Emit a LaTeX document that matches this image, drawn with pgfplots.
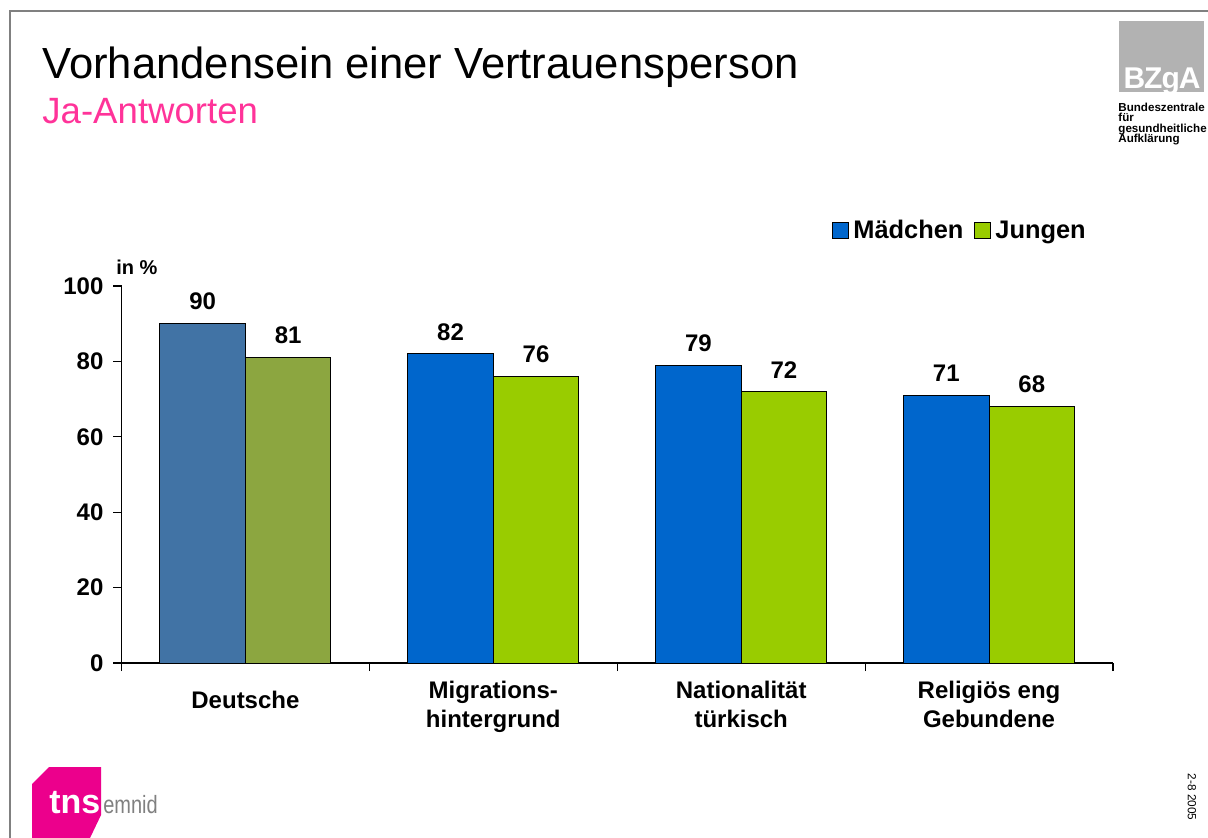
\documentclass[border=0pt]{standalone}
\usepackage{fontspec}
\setmainfont{Liberation Sans}
\usepackage{pgfplots}
\pgfplotsset{compat=1.18}
\definecolor{dblue}{RGB}{65,115,165}
\definecolor{dgreen}{RGB}{140,166,64}
\definecolor{mblue}{RGB}{0,102,204}
\definecolor{jgreen}{RGB}{153,204,0}
\definecolor{subpink}{RGB}{255,51,153}
\definecolor{tnspink}{RGB}{236,0,140}
\definecolor{framegray}{RGB}{128,128,128}
\definecolor{bzgray}{RGB}{178,178,178}
\begin{document}
\begin{tikzpicture}
\path[use as bounding box] (0,0) rectangle (604pt,-418.5pt);
\fill[white] (0,0) rectangle (604pt,-418.5pt);
\begin{scope}[x=0.5pt,y=-0.5pt]
\draw[framegray, line width=1.1pt] (10,838) -- (10,11) -- (1209,11);
\node[anchor=base west, inner sep=0] at (42,78) {\fontsize{21.8}{25}\selectfont Vorhandensein einer Vertrauensperson};
\node[anchor=base west, inner sep=0, text=subpink] at (42,123) {\fontsize{18.3}{22}\selectfont Ja-Antworten};
% BZgA logo
\fill[bzgray] (1119,21) rectangle (1204,92);
\node[anchor=base, white, inner sep=0] at (1162,88) {\fontsize{15}{15}\selectfont\bfseries B\kern-0.5pt Z\kern-0.5pt g\kern-0.5pt A};
\node[anchor=base west, inner sep=0] at (1118,111) {\fontsize{5.8}{6}\selectfont\bfseries Bundeszentrale};
\node[anchor=base west, inner sep=0] at (1118,121.5) {\fontsize{5.8}{6}\selectfont\bfseries für};
\node[anchor=base west, inner sep=0] at (1118,132) {\fontsize{5.8}{6}\selectfont\bfseries gesundheitliche};
\node[anchor=base west, inner sep=0] at (1118,142.5) {\fontsize{5.8}{6}\selectfont\bfseries Aufklärung};
% tns emnid logo
\fill[tnspink] (32,784) -- (49,767) -- (101,767) -- (101,815) -- (90,838) -- (32,838) -- cycle;
\node[anchor=base west, inner sep=0, white] at (49,813) {\fontsize{17}{17}\selectfont\bfseries tns};
\node[anchor=base west, inner sep=0, text=framegray, xscale=0.8] at (103,813) {\fontsize{12.5}{13}\selectfont emnid};
% date
\node[rotate=-90, inner sep=0] at (1192,797) {\fontsize{5.9}{6}\selectfont 2-8 2005};
% unit
\node[anchor=west, inner sep=0] at (116,267) {\fontsize{10}{12}\selectfont\bfseries in \%};
\end{scope}
\begin{axis}[
  at={(60.75pt,-331.5pt)}, anchor=south west,
  scale only axis, width=495.75pt, height=188.5pt,
  xmin=-0.5, xmax=3.5, ymin=0, ymax=100,
  ybar=0pt, bar width=42.75pt,
  axis x line*=bottom, axis y line*=left,
  axis line style={line width=0.6pt, -},
  tick style={line width=0.6pt, black},
  tick align=outside,
  xtick={0,1,2,3},
  xticklabels={{\mbox{}\\[-1pt]Deutsche},{Migrations-\\hintergrund},{Nationalität\\türkisch},{Religiös eng\\Gebundene}},
  major x tick style={draw=none},
  minor xtick={-0.5,0.5,1.5,2.5,3.5},
  minor tick length=4pt,
  major tick length=4pt,
  ytick={0,20,40,60,80,100},
  /pgf/number format/assume math mode=true,
  xticklabel style={font=\fontsize{12}{14.5}\selectfont\bfseries, align=center, anchor=north, inner sep=0pt, yshift=-5pt},
  yticklabel style={font=\fontsize{12}{14}\selectfont\bfseries, xshift=-1.5pt},
  nodes near coords,
  nodes near coords style={font=\fontsize{12}{14}\selectfont\bfseries, anchor=south, inner sep=0pt, yshift=6.5pt, black},
  legend style={at={(0.983,1.146)}, anchor=east, draw=none, fill=none,
    font=\fontsize{12.7}{14}\selectfont\bfseries, legend columns=-1,
    /tikz/every even column/.append style={column sep=3.5pt}},
  clip=false,
]
\addplot[fill=mblue, draw=black, line width=0.5pt, bar shift=-21.375pt,
  legend image code/.code={\draw[fill=mblue,draw=black,line width=0.5pt] (0pt,-4pt) rectangle (8pt,4pt);}]
  coordinates {(1,82) (2,79) (3,71)};
\addlegendentry{Mädchen}
\addplot[fill=jgreen, draw=black, line width=0.5pt, bar shift=21.375pt,
  legend image code/.code={\draw[fill=jgreen,draw=black,line width=0.5pt] (0pt,-4pt) rectangle (8pt,4pt);}]
  coordinates {(1,76) (2,72) (3,68)};
\addlegendentry{Jungen}
\addplot[fill=dblue, draw=black, line width=0.5pt, bar shift=-21.375pt, forget plot]
  coordinates {(0,90)};
\addplot[fill=dgreen, draw=black, line width=0.5pt, bar shift=21.375pt, forget plot]
  coordinates {(0,81)};
\end{axis}
\end{tikzpicture}
\end{document}
